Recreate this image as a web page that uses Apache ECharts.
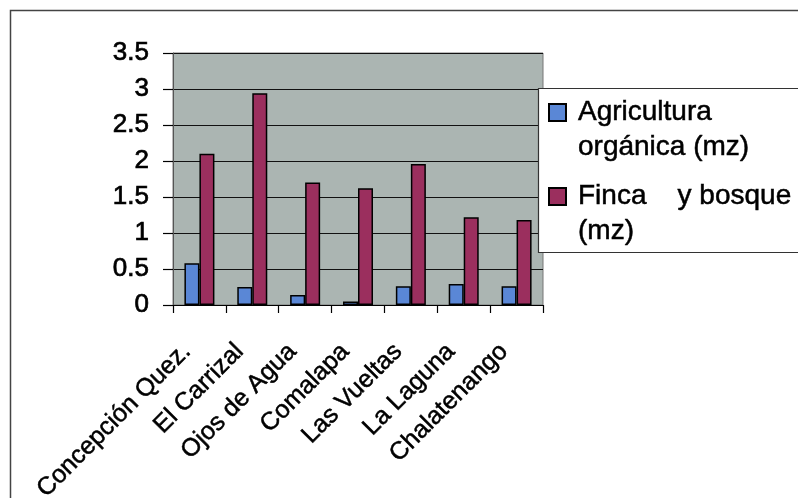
<!DOCTYPE html>
<html>
<head>
<meta charset="utf-8">
<script src="https://cdn.jsdelivr.net/npm/echarts@6/dist/echarts.min.js"></script>
<style>
html,body{margin:0;padding:0;background:#fff;}
#chart{width:798px;height:498px;}
</style>
</head>
<body>
<div id="chart"></div>
<script>
const categories = ['Concepción Quez.', 'El Carrizal', 'Ojos de Agua', 'Comalapa', 'Las Vueltas', 'La Laguna', 'Chalatenango'];
const agricultura = [0.58, 0.25, 0.14, 0.05, 0.26, 0.29, 0.26];
const fincaBosque = [2.10, 2.94, 1.70, 1.62, 1.96, 1.22, 1.18];
const seriesNames = ['Agricultura orgánica (mz)', 'Finca    y bosque (mz)'];
const legendLabels = ['Agricultura\norgánica (mz)', 'Finca    y bosque\n(mz)'];

const FONT = '"Liberation Sans", Arial, sans-serif';
const chart = echarts.init(document.getElementById('chart'));

function legendCfg(idx, top) {
  return {
    data: [seriesNames[idx]],
    orient: 'vertical',
    left: 548,
    top: top,
    padding: 0,
    icon: 'rect',
    itemWidth: 17,
    itemHeight: 17,
    z: 6,
    formatter: function () { return ' \n' + legendLabels[idx]; },
    textStyle: {
      fontFamily: FONT,
      fontSize: 28,
      color: '#000',
      lineHeight: 35,
      textBorderColor: '#000',
      textBorderWidth: 0.5,
      padding: [0, 0, 0, 7]
    }
  };
}

chart.setOption({
  animation: false,
  backgroundColor: '#fff',
  graphic: [
    { type: 'rect', z: 1, shape: { x: 10.5, y: 10.5, width: 820, height: 520 },
      style: { fill: 'none', stroke: '#444', lineWidth: 1.5 } },
    { type: 'rect', z: 4, shape: { x: 538.5, y: 88.5, width: 300, height: 164 },
      style: { fill: '#fff', stroke: '#333', lineWidth: 1.2 } }
  ],
  legend: [legendCfg(0, 60), legendCfg(1, 144)],
  grid: {
    left: 173, right: 255, top: 53, bottom: 193,
    outerBoundsMode: 'none',
    containLabel: false,
    show: true,
    backgroundColor: '#abb5b2',
    borderColor: '#777',
    borderWidth: 1
  },
  xAxis: {
    type: 'category',
    data: categories,
    boundaryGap: true,
    axisLine: { show: true, lineStyle: { color: '#000', width: 1.2 } },
    axisTick: { show: true, length: 8, lineStyle: { color: '#000', width: 1.2 } },
    axisLabel: {
      interval: 0,
      rotate: 45,
      margin: 30,
      padding: [0, 18, 0, 0],
      fontFamily: FONT,
      fontSize: 25,
      color: '#000',
      textBorderColor: '#000',
      textBorderWidth: 0.5
    },
    splitLine: { show: false }
  },
  yAxis: {
    type: 'value',
    min: 0,
    max: 3.5,
    interval: 0.5,
    axisLine: { show: true, lineStyle: { color: '#555', width: 1 } },
    axisTick: { show: true, length: 10, lineStyle: { color: '#000', width: 1.2 } },
    axisLabel: {
      margin: 24,
      fontFamily: FONT,
      fontSize: 26,
      color: '#000',
      textBorderColor: '#000',
      textBorderWidth: 0.7
    },
    splitLine: { show: true, lineStyle: { color: '#111', width: 1.2 } }
  },
  series: [
    {
      name: seriesNames[0],
      type: 'bar',
      data: agricultura,
      barWidth: 15,
      barGap: '0%',
      itemStyle: { color: '#5a87d6', borderColor: '#000', borderWidth: 1.5 }
    },
    {
      name: seriesNames[1],
      type: 'bar',
      data: fincaBosque,
      barWidth: 15,
      itemStyle: { color: '#9b2f5e', borderColor: '#000', borderWidth: 1.5 }
    }
  ]
});
</script>
</body>
</html>
